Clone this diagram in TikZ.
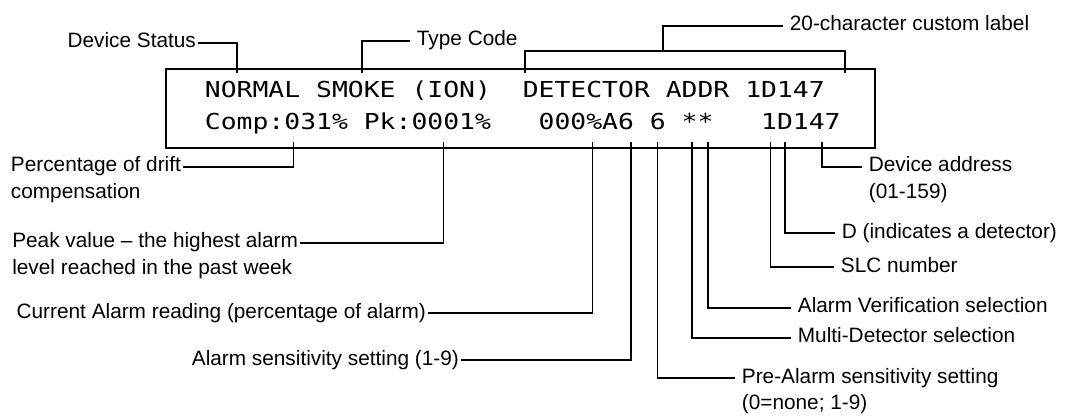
\documentclass[tikz,border=0pt]{standalone}
\usepackage{fontspec}
\setmainfont{Liberation Sans}
\newfontfamily\lcdfont[FakeStretch=1.2]{DejaVu Sans Mono}

\begin{document}
\begin{tikzpicture}[x=0.5pt, y=-0.5pt, line width=0.9pt,
  lcd/.style={font=\lcdfont\fontsize{11}{13}\selectfont, inner sep=0pt, anchor=base west},
  lblL/.style={font=\fontsize{10.4}{13.3}\selectfont, inner xsep=0.6pt, inner ysep=0pt, anchor=base east},
  lblR/.style={font=\fontsize{10.4}{13.3}\selectfont, inner xsep=3pt, inner ysep=0pt, anchor=base west},
  lblM/.style={font=\fontsize{10.4}{13.3}\selectfont, inner xsep=0.6pt, inner ysep=0pt, anchor=base west}]
\useasboundingbox (0,0) rectangle (1072,417);

% Display panel
\node[draw, inner sep=0pt, minimum width=354.5pt, minimum height=39.5pt, anchor=north west] (panel) at (165,68) {};
\node[lcd] (row1) at (204,98) {NORMAL SMOKE (ION)~~DETECTOR ADDR 1D147};
\node[lcd] (row2) at (204,130) {Comp:031\% Pk:0001\%~~~000\%A6 6 **~~~1D147};

% Labels above the display
\coordinate (tkStatus) at (237,73);
\coordinate (tkType) at (362,73);
\coordinate (tkCustL) at (525,73);
\coordinate (tkCustR) at (845,73);
\coordinate (brace) at (663,51);

\node[lblL] (status) at (198,48) {Device Status};
\node[lblR] (type) at (410,46) {Type Code};
\node[lblR] (custom) at (783,31) {20-character custom label};

\draw (tkStatus) |- ([yshift=2.5pt]status.base east);
\draw (tkType) |- ([yshift=2.5pt]type.base west);
\draw (tkCustL) |- (brace) -| (tkCustR);
\draw (brace) |- ([yshift=2.5pt]custom.base west);

% Labels below the display, left side
\coordinate (tkDrift) at (293.5,142);
\coordinate (tkPeak) at (443.5,142);
\coordinate (tkCurrent) at (592.5,142);
\coordinate (tkSens) at (631,142);

\node[lblL] (drift) at (183,172) {Percentage of drift};
\node[lblM] (drift2) at ([yshift=-13.3pt]drift.base west) {compensation};
\node[lblL] (peak) at (300,248) {Peak value -- the highest alarm};
\node[lblM] (peak2) at ([yshift=-13.3pt]peak.base west) {level reached in the past week};
\node[lblL] (current) at (428,318) {Current Alarm reading (percentage of alarm)};
\node[lblL] (sens) at (461,365) {Alarm sensitivity setting (1-9)};

\draw (tkDrift) |- ([yshift=2.5pt]drift.base east);
\draw (tkPeak) |- ([yshift=2.5pt]peak.base east);
\draw (tkCurrent) |- ([yshift=2.5pt]current.base east);
\draw (tkSens) |- ([yshift=2.5pt]sens.base east);

% Labels below the display, right side
\coordinate (tkPre) at (657.5,142);
\coordinate (tkMulti) at (692,142);
\coordinate (tkVerif) at (708,142);
\coordinate (tkSlc) at (770.5,142);
\coordinate (tkDet) at (785,142);
\coordinate (tkAddr) at (822,142);

\node[lblR] (addr) at (862,172) {Device address};
\node[lblR] (addr2) at ([yshift=-13.3pt]addr.base west) {(01-159)};
\node[lblR] (det) at (835,238) {D (indicates a detector)};
\node[lblR] (slc) at (834,272) {SLC number};
\node[lblR] (verif) at (791,313) {Alarm Verification selection};
\node[lblR] (multi) at (791,343) {Multi-Detector selection};
\node[lblR] (pre) at (735,383) {Pre-Alarm sensitivity setting};
\node[lblR] (pre2) at ([yshift=-13.3pt]pre.base west) {(0=none; 1-9)};

\draw (tkAddr) |- ([yshift=2.5pt]addr.base west);
\draw (tkDet) |- ([yshift=2.5pt]det.base west);
\draw (tkSlc) |- ([yshift=2.5pt]slc.base west);
\draw (tkVerif) |- ([yshift=2.5pt]verif.base west);
\draw (tkMulti) |- ([yshift=2.5pt]multi.base west);
\draw (tkPre) |- ([yshift=2.5pt]pre.base west);
\end{tikzpicture}
\end{document}
